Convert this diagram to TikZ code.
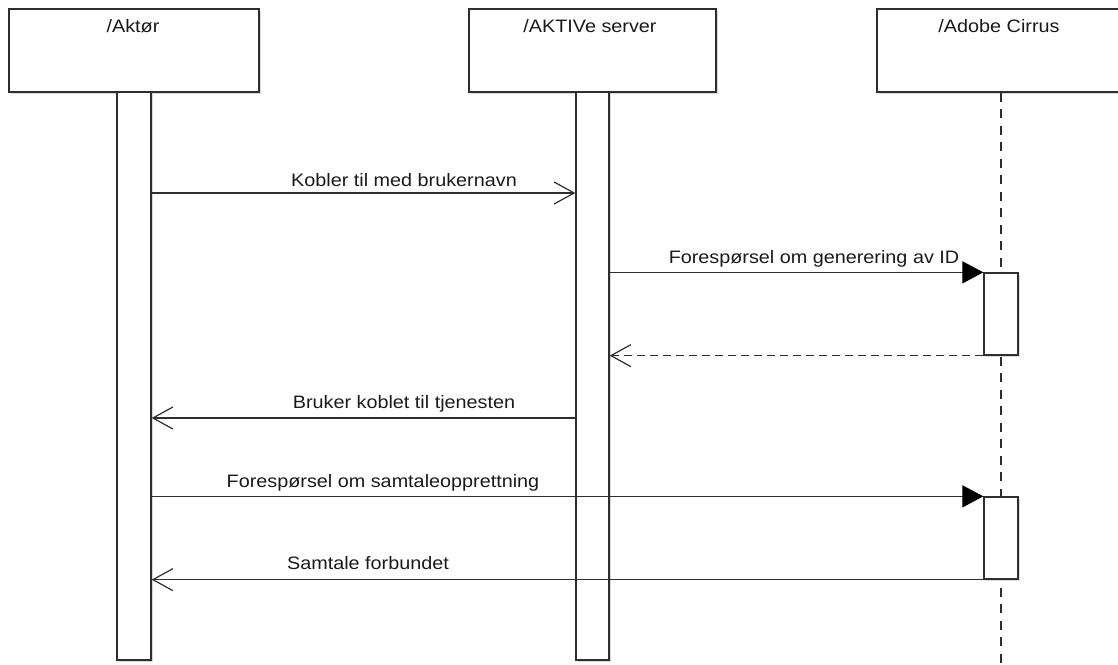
\documentclass[tikz,border=0pt]{standalone}
\usepackage{fontspec}
\setmainfont{Liberation Sans}[FakeStretch=1.1]
\usetikzlibrary{arrows.meta,shadows}

\definecolor{edge}{HTML}{2E2E2E}
\definecolor{ink}{HTML}{1A1A1A}

\tikzset{
  base/.style={draw=edge, line width=1.3pt, fill=white,
    drop shadow={shadow xshift=1.5pt, shadow yshift=-1.5pt, fill=black!30, opacity=0.5}},
  headbox/.style={base, minimum height=83pt, inner sep=0pt},
  lifebar/.style={base, minimum width=34pt, minimum height=568pt, inner sep=0pt},
  actbox/.style={base, minimum width=34pt, minimum height=82pt, inner sep=0pt},
  lbl/.style={anchor=base, inner sep=0pt, text=ink, font=\fontsize{18}{20}\selectfont},
  msg/.style={draw=edge, line width=1.2pt},
  call/.style={msg, -{Triangle[length=21pt, width=22pt, color=black, fill=black]}},
  open/.style={msg, -{Straight Barb[length=20pt, width=22pt]}},
  reply/.style={open, dash pattern=on 8pt off 5pt},
  lifeline/.style={draw=edge, line width=1.5pt, dash pattern=on 9pt off 7.5pt}
}

\begin{document}
\begin{tikzpicture}[x=1pt, y=-1pt]
\useasboundingbox (0,0) rectangle (1118,664);
\clip (0,0) rectangle (1118,664);

% participants
\node[headbox, minimum width=250pt] (hA) at (134,50.5) {};
\node[headbox, minimum width=247pt] (hB) at (592.5,50.5) {};
\node[headbox, minimum width=248pt] (hC) at (1001,50.5) {};
\node[lbl] (tA) at (133,32) {/Aktør};
\node[lbl] (tB) at (590,32) {/AKTIVe server};
\node[lbl] (tC) at (999,32) {/Adobe Cirrus};

% lifelines
\coordinate (cEnd) at (1001,664);
\draw[lifeline] (hC.south) -- (cEnd);
\node[lifebar] (bA) at (134,376) {};
\node[lifebar, minimum width=33pt] (bB) at (592.5,376) {};
\node[actbox] (a1) at (1001,314) {};
\node[actbox] (a2) at (1001,538) {};

% message rows
\coordinate (m1) at (0,193);
\coordinate (m4) at (0,418);

% messages
\draw[open] (bA.east |- m1) -- (bB.west |- m1);
\node[lbl] (l1) at (404,186) {Kobler til med brukernavn};

\draw[call] (bB.east |- a1.north) -- (a1.north west);
\node[lbl] (l2) at (814,263) {Forespørsel om generering av ID};

\draw[reply] (a1.south west) -- (bB.east |- a1.south);

\draw[open] (bB.west |- m4) -- (bA.east |- m4);
\node[lbl] (l3) at (404,408) {Bruker koblet til tjenesten};

\draw[call] (bA.east |- a2.north) -- (a2.north west);
\node[lbl] (l4) at (383,487) {Forespørsel om samtaleopprettning};

\draw[open] (a2.south west) -- (bA.east |- a2.south);
\node[lbl] (l5) at (368,569) {Samtale forbundet};
\end{tikzpicture}
\end{document}
